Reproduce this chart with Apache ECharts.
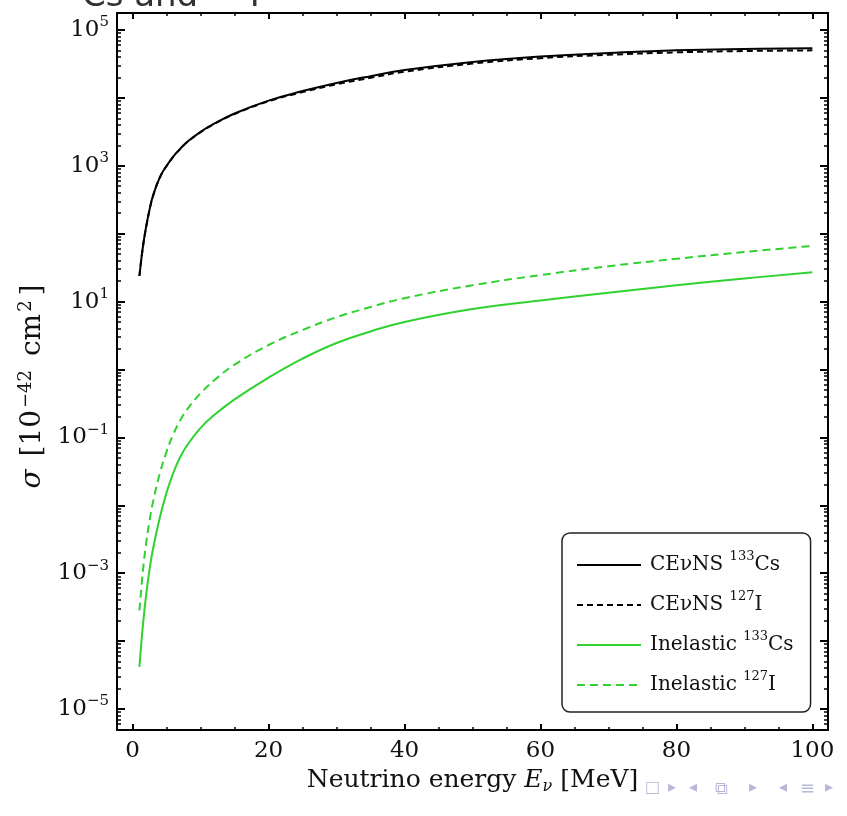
<!DOCTYPE html>
<html>
<head>
<meta charset="utf-8">
<script src="https://cdn.jsdelivr.net/npm/echarts@6/dist/echarts.min.js"></script>
<style>
html,body{margin:0;padding:0;background:#fff;}
#chart{width:847px;height:816px;}
</style>
</head>
<body>
<div id="chart"></div>
<script>
// ---------------- data ----------------
const energy  = [1, 1.5, 2, 2.5, 3, 4, 5, 6, 7, 8, 10, 12, 15, 20, 25, 30, 35, 40, 50, 60, 70, 80, 90, 100];
const cevnsCs = [24, 63.1, 128.8, 229.1, 363.1, 676.1, 1000, 1380, 1778, 2239, 3162, 4169, 5888, 9120, 12589, 16596, 20893, 25704, 33884, 40738, 45709, 50119, 52481, 53703];
const cevnsI  = [23.8, 62.5, 127.5, 226.8, 359.5, 669, 990, 1366, 1760, 2217, 3130, 4121, 5794, 8913, 12162, 15849, 19724, 24266, 31989, 38459, 43152, 46774, 48978, 50119];
const inelCs  = [4.17e-5, 1.66e-4, 4.90e-4, 1.148e-3, 2.291e-3, 6.61e-3, 0.01549, 0.03020, 0.05129, 0.07586, 0.1380, 0.2138, 0.3631, 0.7586, 1.445, 2.455, 3.631, 5.012, 7.762, 10.35, 13.49, 17.38, 21.88, 26.92];
const inelI   = [2.818e-4, 1.047e-3, 2.818e-3, 6.026e-3, 0.01122, 0.02951, 0.06166, 0.1122, 0.1778, 0.2570, 0.4467, 0.6918, 1.175, 2.291, 3.802, 5.888, 8.318, 11.22, 17.38, 24.55, 33.11, 42.66, 53.70, 66.07];

const seriesNames = ['CEνNS 133Cs', 'CEνNS 127I', 'Inelastic 133Cs', 'Inelastic 127I'];
const legendLabels = {
  'CEνNS 133Cs': '{t|CEνNS }{s|133}{t|Cs}',
  'CEνNS 127I': '{t|CEνNS }{s|127}{t|I}',
  'Inelastic 133Cs': '{t|Inelastic }{s|133}{t|Cs}',
  'Inelastic 127I': '{t|Inelastic }{s|127}{t|I}'
};

const xMajorTicks = [0, 20, 40, 60, 80, 100];
const xMinorTicks = [5, 10, 15, 25, 30, 35, 45, 50, 55, 65, 70, 75, 85, 90, 95];
const yLabelTicks = [1e-5, 1e-3, 1e-1, 1e1, 1e3, 1e5];
const yMajorTicks = [1e-5, 1e-4, 1e-3, 1e-2, 1e-1, 1, 1e1, 1e2, 1e3, 1e4, 1e5];
const yMinorTicks = [];
for (let n = -6; n <= 4; n++) for (let k = 2; k <= 9; k++) yMinorTicks.push(k * Math.pow(10, n));

const X_MIN = -2.3, X_MAX = 102.3;
const Y_MIN = Math.pow(10, -5.31), Y_MAX = Math.pow(10, 5.25);

const SERIF = '"DejaVu Serif", "Liberation Serif", serif';
const pair = arr => energy.map((e, i) => [e, arr[i]]);

function supLabel(v) {
  const e = Math.round(Math.log10(v));
  const s = e < 0 ? '\u2212' + (-e) : String(e);
  return '{b|10}{s|' + s + '}';
}

const labelRich = {
  b: { fontFamily: SERIF, fontSize: 23, color: '#111', lineHeight: 30 },
  s: { fontFamily: SERIF, fontSize: 15, color: '#111', lineHeight: 12, verticalAlign: 'top' }
};

function xAxisDef(pos, ticks, len, width, showLabel, showLine) {
  return {
    type: 'value', position: pos, min: X_MIN, max: X_MAX,
    axisLine: { show: showLine, onZero: false, lineStyle: { color: '#000', width: 2 } },
    axisTick: { show: true, inside: true, length: len, customValues: ticks, lineStyle: { color: '#000', width: width } },
    axisLabel: { show: showLabel, customValues: ticks, margin: 10, fontFamily: SERIF, fontSize: 23, color: '#111' },
    splitLine: { show: false }
  };
}
function yAxisDef(pos, ticks, len, width, showLabel, showLine) {
  return {
    type: 'log', logBase: 10, position: pos, min: Y_MIN, max: Y_MAX,
    axisLine: { show: showLine, onZero: false, lineStyle: { color: '#000', width: 2 } },
    axisTick: { show: true, inside: true, length: len, customValues: ticks, lineStyle: { color: '#000', width: width } },
    axisLabel: { show: showLabel, customValues: yLabelTicks, margin: 8, formatter: supLabel, rich: labelRich },
    splitLine: { show: false }
  };
}

const xAxes = [
  xAxisDef('bottom', xMajorTicks, 6, 2, true, true),
  xAxisDef('bottom', xMinorTicks, 3, 1.5, false, false),
  xAxisDef('top', xMajorTicks, 6, 2, false, true),
  xAxisDef('top', xMinorTicks, 3, 1.5, false, false)
];
xAxes[0].name = '{n|Neutrino energy }{i|E}{sub|ν}{n| [MeV]}';
xAxes[0].nameLocation = 'middle';
xAxes[0].nameGap = 28;
xAxes[0].nameTextStyle = {
  rich: {
    n: { fontFamily: SERIF, fontSize: 25, color: '#111', lineHeight: 28 },
    i: { fontFamily: SERIF, fontSize: 25, fontStyle: 'italic', color: '#111', lineHeight: 28 },
    sub: { fontFamily: SERIF, fontSize: 16, fontStyle: 'italic', color: '#111', lineHeight: 14, verticalAlign: 'bottom' }
  }
};

const yAxes = [
  yAxisDef('left', yMajorTicks, 8, 2, true, true),
  yAxisDef('left', yMinorTicks, 4, 1.5, false, false),
  yAxisDef('right', yMajorTicks, 8, 2, false, true),
  yAxisDef('right', yMinorTicks, 4, 1.5, false, false)
];
yAxes[0].name = '{i|σ}{n| [10}{s|\u221242}{n| cm}{s|2}{n|]}';
yAxes[0].nameLocation = 'middle';
yAxes[0].nameGap = 68;
yAxes[0].nameRotate = 90;
yAxes[0].nameTextStyle = {
  padding: [0, 30, 0, 0],
  rich: {
    n: { fontFamily: SERIF, fontSize: 28, color: '#111', lineHeight: 30 },
    i: { fontFamily: SERIF, fontSize: 28, fontStyle: 'italic', color: '#111', lineHeight: 30, padding: [0, 4, 0, 0] },
    s: { fontFamily: SERIF, fontSize: 18, color: '#111', lineHeight: 10, verticalAlign: 'top', padding: [0, 5, 0, 2] }
  }
};

const GREEN = '#2fd22f';
const chart = echarts.init(document.getElementById('chart'), null, { renderer: 'canvas' });
chart.setOption({
  backgroundColor: '#fff',
  animation: false,
  grid: { left: 117, right: 19, top: 13, bottom: 86, containLabel: false },
  xAxis: xAxes,
  yAxis: yAxes,
  legend: {
    orient: 'vertical',
    left: 562, top: 533,
    padding: [17, 17, 17, 14],
    itemGap: 15,
    itemWidth: 64, itemHeight: 14,
    itemTextGap: 9,
    backgroundColor: '#fff',
    borderColor: '#222', borderWidth: 1.5, borderRadius: 8,
    itemStyle: { color: 'rgba(0,0,0,0)', borderColor: 'rgba(0,0,0,0)', borderWidth: 0 },
    data: seriesNames,
    formatter: name => legendLabels[name],
    textStyle: {
      padding: [0, 0, 0, 4],
      rich: {
        t: { fontFamily: SERIF, fontSize: 20, color: '#111', lineHeight: 30 },
        s: { fontFamily: SERIF, fontSize: 13, color: '#111', lineHeight: 12, verticalAlign: 'top' }
      }
    }
  },
  series: [
    { name: seriesNames[0], type: 'line', data: pair(cevnsCs), smooth: 0.45, symbol: 'none', lineStyle: { color: '#000', width: 2 }, itemStyle: { color: '#000' }, z: 4 },
    { name: seriesNames[1], type: 'line', data: pair(cevnsI), smooth: 0.45, symbol: 'none', lineStyle: { color: '#000', width: 2, type: [6, 4] }, itemStyle: { color: '#000' }, z: 3 },
    { name: seriesNames[2], type: 'line', data: pair(inelCs), smooth: 0.45, symbol: 'none', lineStyle: { color: GREEN, width: 2 }, itemStyle: { color: GREEN }, z: 2 },
    { name: seriesNames[3], type: 'line', data: pair(inelI), smooth: 0.45, symbol: 'none', lineStyle: { color: GREEN, width: 2, type: [8, 5] }, itemStyle: { color: GREEN }, z: 2 }
  ],
  graphic: [
    { type: 'text', left: 41, top: -20, silent: true,
      style: { text: '¹³³Cs and ¹²⁷I', font: '34px "DejaVu Sans", sans-serif', fill: '#333' } },
    { type: 'group', left: 645, top: 780, silent: true, children: [
      { type: 'text', x: 0, y: 0, style: { text: '□', font: '16px "DejaVu Sans"', fill: '#b8b8d8' } },
      { type: 'text', x: 23, y: 0, style: { text: '▸', font: '16px "DejaVu Sans"', fill: '#b8b8d8' } },
      { type: 'text', x: 44, y: 0, style: { text: '◂', font: '16px "DejaVu Sans"', fill: '#b8b8d8' } },
      { type: 'text', x: 70, y: 0, style: { text: '⧉', font: '18px "DejaVu Sans"', fill: '#b8b8d8' } },
      { type: 'text', x: 104, y: 0, style: { text: '▸', font: '16px "DejaVu Sans"', fill: '#b8b8d8' } },
      { type: 'text', x: 134, y: 0, style: { text: '◂', font: '16px "DejaVu Sans"', fill: '#b8b8d8' } },
      { type: 'text', x: 155, y: 0, style: { text: '≡', font: '18px "DejaVu Sans"', fill: '#b8b8d8' } },
      { type: 'text', x: 180, y: 0, style: { text: '▸', font: '16px "DejaVu Sans"', fill: '#b8b8d8' } }
    ] }
  ]
});
</script>
</body>
</html>
